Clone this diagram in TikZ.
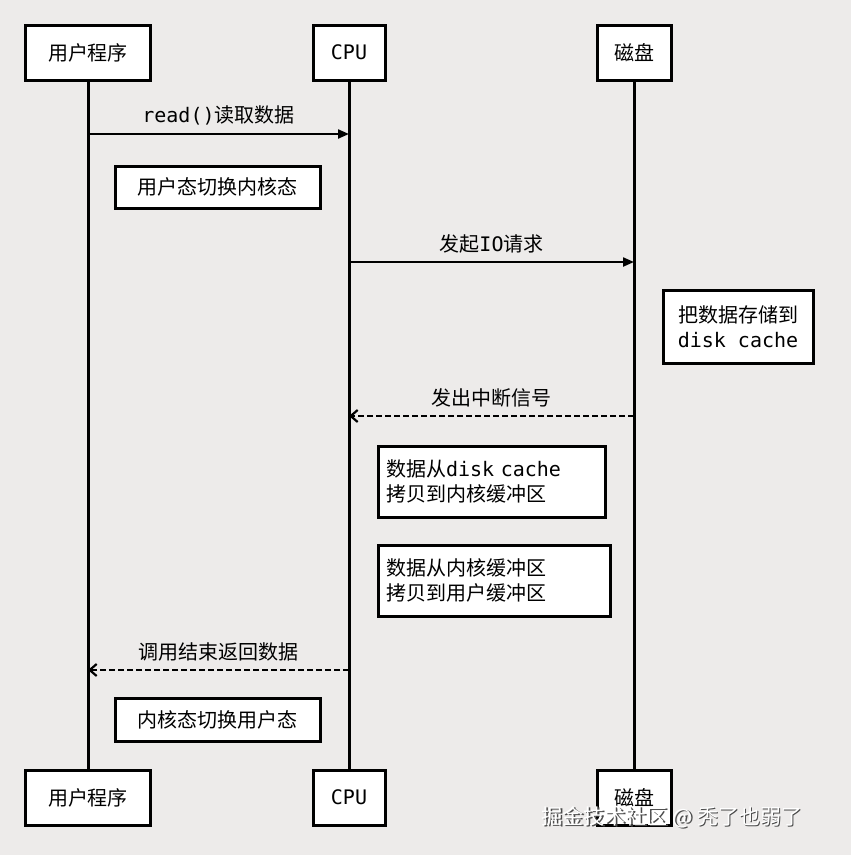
\documentclass[tikz,border=0pt]{standalone}
\usepackage{fontspec}
\setmainfont{Noto Sans CJK SC}[BoldFont={Noto Sans CJK SC Bold}]
\setmonofont{DejaVu Sans Mono}
\usetikzlibrary{arrows.meta}
\begin{document}
\begin{tikzpicture}[x=1pt,y=-1pt,
  every node/.style={font=\fontsize{20}{25}\selectfont},
  actor/.style={draw,line width=3pt,fill=white,minimum height=55pt,inner sep=0pt},
  note/.style={draw,line width=3pt,fill=white,inner sep=0pt,align=center},
  lnote/.style={draw,line width=3pt,fill=white,inner xsep=8pt,inner ysep=0pt,align=left},
  life/.style={line width=3pt},
  msg/.style={line width=2.2pt,-{Triangle[length=11pt,width=9pt]}},
  ret/.style={line width=2.2pt,dash pattern=on 6pt off 3pt,-{Straight Barb[length=7pt,width=12pt]}},
  lbl/.style={above=4pt}]
\fill[fill={rgb,255:red,237;green,235;blue,234}] (0,0) rectangle (851,855);
\useasboundingbox (0,0) rectangle (851,855);
% lifelines
\coordinate (u1) at (88,80); \coordinate (u2) at (88,770);
\coordinate (c1) at (349,80); \coordinate (c2) at (349,770);
\coordinate (d1) at (634,80); \coordinate (d2) at (634,770);
\draw[life] (u1)--(u2); \draw[life] (c1)--(c2); \draw[life] (d1)--(d2);
\node[actor,minimum width=125pt] (ut) at (88,52.5) {用户程序};
\node[actor,minimum width=72pt] (ct) at (349,52.5) {\texttt{CPU}};
\node[actor,minimum width=74pt] (dt) at (634,52.5) {磁盘};
\node[actor,minimum width=125pt] (ub) at (88,797.5) {用户程序};
\node[actor,minimum width=72pt] (cb) at (349,797.5) {\texttt{CPU}};
\node[actor,minimum width=74pt] (db) at (634,797.5) {磁盘};
% messages
\coordinate (m1a) at (88,134); \coordinate (m1b) at (349,134);
\draw[msg] (m1a) -- node[lbl] {\texttt{read()}读取数据} (m1b);
\node[note,minimum width=205pt,minimum height=42pt] (n1) at (217.5,187) {用户态切换内核态};
\coordinate (m2a) at (349,262); \coordinate (m2b) at (634,262);
\draw[msg] (m2a) -- node[lbl] {发起\texttt{IO}请求} (m2b);
\node[note,minimum width=150pt,minimum height=73pt] (n2) at (738,326.5) {把数据存储到\\\texttt{disk cache}};
\coordinate (m3a) at (634,416); \coordinate (m3b) at (349,416);
\draw[ret] (m3a) -- node[lbl] {发出中断信号} (m3b);
\node[lnote,text width=211pt,minimum height=71pt] (n3) at (491.5,481.5) {数据从\texttt{disk cache}\\拷贝到内核缓冲区};
\node[lnote,text width=216pt,minimum height=71pt] (n4) at (494,580.5) {数据从内核缓冲区\\拷贝到用户缓冲区};
\coordinate (m4a) at (349,670); \coordinate (m4b) at (88,670);
\draw[ret] (m4a) -- node[lbl] {调用结束返回数据} (m4b);
\node[note,minimum width=205pt,minimum height=43pt] (n5) at (217.5,719.5) {内核态切换用户态};
\node[text=black!70,font=\fontsize{21}{24}\selectfont] (wms) at (673.5,818.5) {掘金技术社区 @ 秃了也弱了};
\node[text=white,font=\fontsize{21}{24}\selectfont] (wm) at (672,817) {掘金技术社区 @ 秃了也弱了};
\end{tikzpicture}
\end{document}
